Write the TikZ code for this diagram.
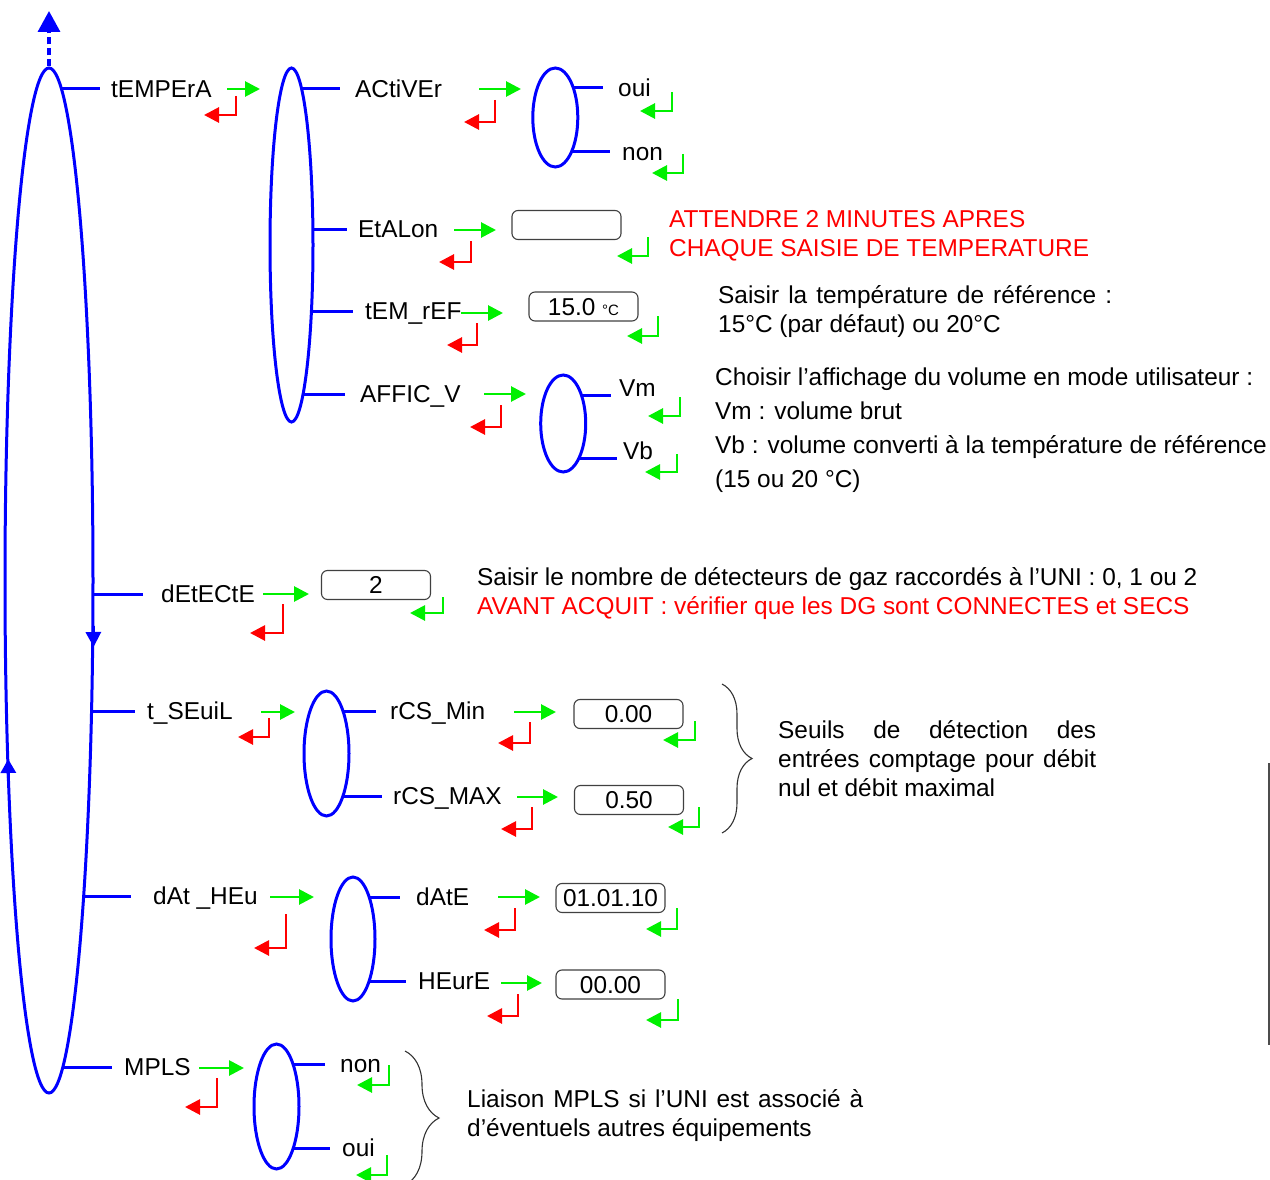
\documentclass[tikz,border=0pt]{standalone}
\usepackage{fontspec}
\setmainfont{Liberation Sans}
\usetikzlibrary{arrows.meta,positioning,shapes.geometric,decorations.pathreplacing}
\definecolor{okgreen}{RGB}{0,240,0}
\newcommand{\menufont}{\fontsize{24.4}{29}\selectfont}

\begin{document}
\begin{tikzpicture}[
    x=1pt, y=-1pt,
    menu/.style={ellipse, draw=blue, line width=3pt, inner sep=0pt},
    branch/.style={draw=blue, line width=3pt},
    item/.style={anchor=west, inner sep=0pt, text height=17pt, text depth=0pt,
                 font=\menufont},
    note/.style={anchor=base west, inner sep=0pt, align=left, font=\menufont},
    field/.style={draw=black!75, line width=1.1pt, rounded corners=6pt,
                  minimum width=109pt, minimum height=29pt, inner sep=0pt,
                  text height=17pt, text depth=0pt, font=\menufont},
    go/.style={draw=okgreen, line width=2.8pt, -{Triangle[length=15pt,width=15pt]}},
    back/.style={draw=red, line width=2.8pt, -{Triangle[length=15pt,width=15pt]}},
    curly/.style={draw=black!80, line width=1.1pt, decorate,
                  decoration={brace, amplitude=#1}},
]
\useasboundingbox (0,0) rectangle (1270,1180);

% Main loop
\node[menu, minimum width=88pt, minimum height=1025pt] (main) at (49,580.5) {};
\coordinate (up) at (49,11);
\draw[blue, line width=3.5pt, dash pattern=on 7pt off 4pt,
      -{Triangle[length=21pt,width=22pt]}] (main.north) -- (up);
\draw[blue, line width=3pt, -{Triangle[length=15pt,width=15pt]}] (93.3,626) -- (93.6,647);
\draw[blue, line width=3pt, -{Triangle[length=14pt,width=15pt]}] (8.4,778) -- (8.2,759);

% tEMPErA
\node[item] (tempera) at (111,89) {tEMPErA};
\coordinate (m1) at (61.5,89);
\draw[branch] (m1) -- ([xshift=-11pt]tempera.west);
\draw[go] (227,89) -- (260,89);
\draw[back] (236,96) |- (204,115);
\node[menu, minimum width=43pt, minimum height=354pt] (temp) at (291.5,245) {};

% ACtiVEr
\node[item] (activer) at (355,89) {ACtiVEr};
\coordinate (t1) at (301.9,89);
\draw[branch] (t1) -- ([xshift=-15pt]activer.west);
\draw[go] (479,89) -- (521,89);
\draw[back] (495,100) |- (464,122);
\node[menu, minimum width=45pt, minimum height=99pt] (act) at (555.3,117.5) {};
\node[item] (aoui) at (618,88) {oui};
\node[item] (anon) at (622,152) {non};
\coordinate (a1) at (573.8,88);
\coordinate (a2) at (571.5,152);
\draw[branch] (a1) -- ([xshift=-15pt]aoui.west);
\draw[branch] (a2) -- ([xshift=-12pt]anon.west);
\draw[go] (672,92) |- (640,111);
\draw[go] (683,154) |- (652,173);

% EtALon
\node[item] (etalon) at (358,229) {EtALon};
\coordinate (t2) at (313,229);
\draw[branch] (t2) -- ([xshift=-11pt]etalon.west);
\draw[go] (454,230) -- (496,230);
\draw[back] (471,241) |- (439,262);
\node[field] (etalbox) at (566.5,225) {};
\draw[go] (648,237) |- (617,256);
\node[note, text=red] (wait) at (669,256)
    {ATTENDRE 2 MINUTES APRES\\CHAQUE SAISIE DE TEMPERATURE};

% tEM_rEF
\node[item] (temref) at (365,311) {tEM\_rEF};
\coordinate (t3) at (311.4,311);
\draw[branch] (t3) -- ([xshift=-12pt]temref.west);
\draw[go] (461,313) -- (503,313);
\draw[back] (477,323) |- (447,345);
\node[field] (trefbox) at (583.5,306.5) {15.0 {\fontsize{15}{15}\selectfont °C}};
\draw[go] (658,316) |- (627,336);
\node[note] (refnote) at (718,332)
    {\makebox[394pt][s]{Saisir la température de référence :}\\15°C (par défaut) ou 20°C};

% AFFIC_V
\node[item] (affic) at (360,394) {AFFIC\_V};
\coordinate (t4) at (302.9,394);
\draw[branch] (t4) -- ([xshift=-15pt]affic.west);
\draw[go] (484,394) -- (526,394);
\draw[back] (501,405) |- (470,427);
\node[menu, minimum width=45pt, minimum height=97pt] (aff) at (563.2,423.5) {};
\node[item] (vm) at (619,387.5) {Vm};
\node[item] (vb) at (623,451) {Vb};
\coordinate (v1) at (581.4,395);
\coordinate (v2) at (579,458);
\draw[branch] (v1) -- ([xshift=-8pt,yshift=-7.5pt]vm.west);
\draw[branch] (v2) -- ([xshift=-6pt,yshift=-7pt]vb.west);
\draw[go] (680,397) |- (648,416);
\draw[go] (677,454) |- (645,472);
\node[note, font=\fontsize{24.4}{34}\selectfont] (volnote) at (715,487)
    {Choisir l’affichage du volume en mode utilisateur :\\Vm : volume brut\\
     Vb : volume converti à la température de référence\\(15 ou 20 °C)};

% dEtECtE
\node[item] (detecte) at (161,594) {dEtECtE};
\coordinate (m2) at (93,594);
\draw[branch] (m2) -- ([xshift=-18pt]detecte.west);
\draw[go] (263,594) -- (309,594);
\draw[back] (283,604) |- (250,633);
\node[field] (detbox) at (376,585) {2};
\draw[go] (443,597) |- (410,613);
\node[note] (detnote) at (477,614)
    {Saisir le nombre de détecteurs de gaz raccordés à l’UNI : 0, 1 ou 2\\
     \textcolor{red}{AVANT ACQUIT : vérifier que les DG sont CONNECTES et SECS}};

% t_SEuiL
\node[item] (tseuil) at (147,711) {t\_SEuiL};
\coordinate (m3) at (91.5,711);
\draw[branch] (m3) -- ([xshift=-12pt]tseuil.west);
\draw[go] (261,712) -- (295,712);
\draw[back] (269,718) |- (238,737);
\node[menu, minimum width=45pt, minimum height=125pt] (seuil) at (326.5,753.5) {};
\node[item] (rcsmin) at (390,711) {rCS\_Min};
\node[item] (rcsmax) at (393,796) {rCS\_MAX};
\coordinate (s1) at (343.3,711);
\coordinate (s2) at (343,796);
\draw[branch] (s1) -- ([xshift=-14pt]rcsmin.west);
\draw[branch] (s2) -- ([xshift=-11pt]rcsmax.west);
\draw[go] (514,712) -- (556,712);
\draw[back] (530,722) |- (498,743);
\draw[go] (517,797) -- (558,797);
\draw[back] (532,807) |- (501,829);
\node[field] (minbox) at (628.5,714) {0.00};
\node[field] (maxbox) at (629,800) {0.50};
\draw[go] (695,721) |- (663,740);
\draw[go] (699,807) |- (668,827);
\coordinate (b1) at (722,684);
\coordinate (b2) at (722,833);
\draw[curly=30pt] (b1) -- (b2);
\node[note] (seuilnote) at (778,796)
    {\makebox[318pt][s]{Seuils de détection des}\\
     \makebox[318pt][s]{entrées comptage pour débit}\\nul et débit maximal};

% dAt _HEu
\node[item] (dathe) at (153,896) {dAt \_HEu};
\coordinate (m4) at (83.6,896);
\draw[branch] (m4) -- ([xshift=-22pt]dathe.west);
\draw[go] (270,897) -- (314,897);
\draw[back] (286,914) |- (254,948);
\node[menu, minimum width=44pt, minimum height=124pt] (dath) at (353,939) {};
\node[item] (date) at (416,897) {dAtE};
\node[item] (heure) at (418,981) {HEurE};
\coordinate (d1) at (369.2,897);
\coordinate (d2) at (369.2,981);
\draw[branch] (d1) -- ([xshift=-16pt]date.west);
\draw[branch] (d2) -- ([xshift=-12pt]heure.west);
\draw[go] (498,897) -- (540,897);
\draw[back] (515,908) |- (484,930);
\draw[go] (501,983) -- (542,983);
\draw[back] (518,994) |- (487,1016);
\node[field] (datebox) at (610.5,898) {01.01.10};
\node[field] (heurebox) at (610.5,984.5) {00.00};
\draw[go] (677,908) |- (646,929);
\draw[go] (678,999) |- (646,1020);

% MPLS
\node[item] (mplsl) at (124,1067) {MPLS};
\coordinate (m5) at (62.6,1067);
\draw[branch] (m5) -- ([xshift=-12pt]mplsl.west);
\draw[go] (199,1068) -- (244,1068);
\draw[back] (217,1078) |- (185,1107);
\node[menu, minimum width=45pt, minimum height=125pt] (mpls) at (276.5,1106.5) {};
\node[item] (mnon) at (340,1064) {non};
\node[item] (moui) at (342,1148) {oui};
\coordinate (p1) at (293.3,1064);
\coordinate (p2) at (293.3,1148);
\draw[branch] (p1) -- ([xshift=-15pt]mnon.west);
\draw[branch] (p2) -- ([xshift=-12pt]moui.west);
\draw[go] (389,1065) |- (357,1085);
\draw[go] (387,1155) |- (356,1175);
\coordinate (b3) at (405,1051);
\coordinate (b4) at (405,1185);
\draw[curly=34pt] (b3) -- (b4);
\node[note] (mplsnote) at (467,1136)
    {\makebox[396pt][s]{Liaison MPLS si l’UNI est associé à}\\d’éventuels autres équipements};

% Edge line
\coordinate (g1) at (1269,763);
\coordinate (g2) at (1269,1045);
\draw[black!70, line width=1.2pt] (g1) -- (g2);

\end{tikzpicture}
\end{document}
